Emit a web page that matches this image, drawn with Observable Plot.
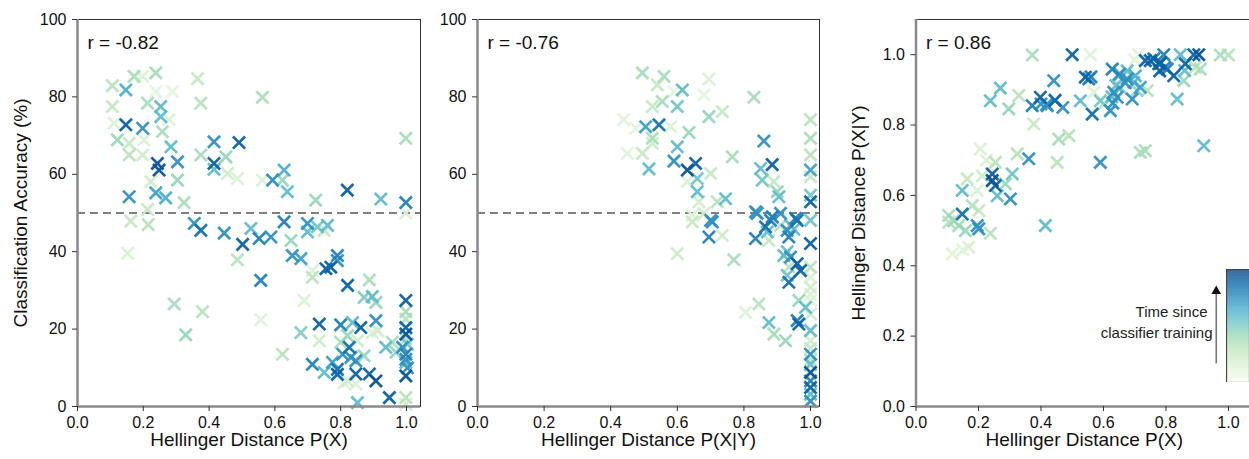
<!DOCTYPE html>
<html><head><meta charset="utf-8">
<script src="https://cdn.jsdelivr.net/npm/d3@7"></script>
<script src="https://cdn.jsdelivr.net/npm/@observablehq/plot@0.6"></script>
<style>
html,body{margin:0;padding:0;background:#fff;overflow:hidden;width:1249px;height:459px;}
#root{position:relative;width:1249px;height:459px;overflow:hidden;}
.panel{position:absolute;top:0;}
</style></head><body><div id="root"></div>
<script>
// ---- tick values / labels ----
const xTicks = [0, 0.2, 0.4, 0.6, 0.8, 1.0];
const accTicks = [0, 20, 40, 60, 80, 100];
const hxyTicks = [0, 0.2, 0.4, 0.6, 0.8, 1.0];
const corrLabels = ["r = -0.82", "r = -0.76", "r = 0.86"];
const xLabels = ["Hellinger Distance P(X)", "Hellinger Distance P(X|Y)", "Hellinger Distance P(X)"];
const yLabels = ["Classification Accuracy (%)", null, "Hellinger Distance P(X|Y)"];
const chanceLevel = 50;
const legendTitle = ["Time since", "classifier training"];

// ---- data: [x, y, time since training (0..1)] ----
const accVsPX = [
[0.106,82.9,0.3],[0.172,85.3,0.35],[0.238,86.2,0.35],[0.198,85.3,0.15],[0.365,84.7,0.25],
[0.147,81.8,0.6],[0.238,81.4,0.1],[0.289,81.4,0.1],[0.562,79.9,0.35],[0.106,77.5,0.25],
[0.213,78.4,0.35],[0.253,77.5,0.55],[0.375,78.4,0.3],[0.111,73.2,0.15],[0.147,72.8,0.85],
[0.198,71.9,0.7],[0.253,74.9,0.55],[0.278,74.1,0.15],[0.258,71.0,0.35],[0.121,68.9,0.4],
[0.157,68.0,0.25],[0.202,68.9,0.15],[0.157,65.0,0.3],[0.198,65.0,0.2],[0.284,67.1,0.55],
[0.415,68.4,0.7],[0.491,68.2,0.85],[0.375,65.0,0.35],[0.451,64.5,0.4],[0.243,62.8,0.9],
[0.248,61.1,0.9],[0.304,63.2,0.7],[0.415,62.8,0.85],[0.415,61.3,0.55],[0.223,58.1,0.2],
[0.304,58.5,0.4],[0.486,58.9,0.15],[0.456,60.2,0.2],[0.562,58.5,0.15],[0.593,58.5,0.7],
[0.623,58.5,0.4],[0.628,61.1,0.6],[0.638,55.5,0.55],[0.157,54.2,0.7],[0.238,55.2,0.65],
[0.268,53.9,0.6],[0.324,52.7,0.35],[0.213,50.9,0.25],[0.724,53.3,0.4],[0.820,55.9,0.85],
[0.922,53.6,0.55],[0.998,52.7,0.75],[0.998,69.3,0.35],[0.998,50.0,0.15],[0.162,47.9,0.25],
[0.215,47.0,0.3],[0.355,47.3,0.7],[0.375,45.5,0.8],[0.446,44.8,0.7],[0.527,46.0,0.55],
[0.502,41.9,0.85],[0.552,43.4,0.75],[0.588,43.8,0.7],[0.628,47.7,0.75],[0.649,42.9,0.4],
[0.699,47.3,0.7],[0.699,45.1,0.55],[0.729,46.4,0.5],[0.750,45.5,0.25],[0.760,46.8,0.55],
[0.152,39.6,0.15],[0.486,37.9,0.3],[0.653,39.0,0.7],[0.679,38.2,0.65],[0.714,35.1,0.15],
[0.714,33.4,0.3],[0.755,35.6,0.85],[0.770,36.0,0.85],[0.790,39.0,0.75],[0.790,37.7,0.7],
[0.557,32.6,0.75],[0.821,31.3,0.85],[0.887,32.7,0.35],[0.871,28.2,0.45],[0.896,28.4,0.55],
[0.907,26.9,0.4],[0.689,27.4,0.15],[0.294,26.5,0.35],[0.380,24.5,0.3],[0.557,22.4,0.12],
[0.329,18.5,0.4],[0.998,27.4,0.85],[0.998,22.6,0.3],[0.998,20.4,0.85],[0.998,18.7,0.9],
[0.998,13.5,0.75],[0.998,12.2,0.7],[0.998,7.9,0.9],[0.998,2.3,0.3],[0.998,0.6,0.2],
[0.679,19.1,0.45],[0.735,21.3,0.85],[0.735,17.0,0.2],[0.800,21.1,0.75],[0.836,21.7,0.55],
[0.861,20.4,0.85],[0.907,22.2,0.7],[0.896,19.1,0.15],[0.912,19.6,0.2],[0.821,18.3,0.4],
[0.623,13.5,0.3],[0.714,10.9,0.75],[0.750,8.8,0.55],[0.775,11.4,0.65],[0.790,9.6,0.8],
[0.806,13.5,0.7],[0.826,15.3,0.8],[0.831,12.7,0.7],[0.846,11.8,0.7],[0.821,6.6,0.2],
[0.846,5.8,0.15],[0.871,13.1,0.4],[0.846,8.4,0.85],[0.887,8.4,0.85],[0.907,6.6,0.9],
[0.937,15.3,0.55],[0.957,16.6,0.35],[0.968,14.0,0.4],[0.948,2.3,0.85],[0.851,1.0,0.55],
[0.988,15.3,0.7],[1.003,16.1,0.5],[0.998,11.4,0.55],[1.003,10.0,0.7],[0.998,17.5,0.3],
[0.998,24.5,0.35],[0.800,16.6,0.35],[0.851,17.0,0.2],[0.790,8.3,0.85],[0.810,6.2,0.15]
];

const accVsPXY = [
[0.495,86.2,0.35],[0.560,85.3,0.35],[0.540,83.1,0.25],[0.695,84.6,0.15],[0.615,81.8,0.55],
[0.680,80.5,0.1],[0.590,81.4,0.1],[0.830,79.9,0.35],[0.555,78.8,0.35],[0.525,77.5,0.25],
[0.600,77.5,0.5],[0.735,76.2,0.25],[0.695,74.9,0.4],[0.439,74.1,0.12],[0.505,72.3,0.65],
[0.545,72.8,0.8],[0.475,71.9,0.1],[0.580,72.3,0.15],[0.635,70.8,0.4],[1.0,74.1,0.3],
[1.0,69.3,0.35],[1.0,65.0,0.3],[0.525,69.3,0.35],[0.525,68.0,0.2],[0.600,67.1,0.55],
[0.860,68.6,0.7],[0.450,65.4,0.12],[0.495,65.4,0.25],[0.765,64.5,0.35],[0.590,63.4,0.7],
[0.655,62.8,0.85],[0.630,61.1,0.9],[0.515,61.4,0.55],[0.885,62.5,0.85],[0.850,61.5,0.55],
[1.0,61.1,0.65],[1.0,59.4,0.25],[0.700,60.2,0.25],[0.660,58.9,0.5],[0.630,58.1,0.15],
[0.855,58.5,0.5],[0.890,58.1,0.25],[0.660,55.5,0.55],[0.900,55.5,0.4],[0.665,52.9,0.2],
[0.720,52.9,0.3],[0.745,53.7,0.55],[0.905,54.2,0.55],[1.0,52.9,0.85],[1.0,54.6,0.5],
[0.645,49.4,0.15],[0.680,49.9,0.2],[0.705,47.7,0.7],[0.695,43.8,0.75],[0.735,44.2,0.2],
[0.770,37.9,0.35],[0.600,39.5,0.2],[0.645,47.7,0.25],[0.840,49.9,0.7],[0.835,43.4,0.75],
[0.865,46.4,0.8],[0.880,48.1,0.75],[0.870,45.1,0.55],[0.875,42.9,0.25],[0.910,49.9,0.7],
[0.910,46.8,0.3],[0.930,45.5,0.7],[0.940,46.8,0.55],[0.960,48.1,0.8],[0.950,45.8,0.55],
[0.935,43.8,0.75],[1.0,48.1,0.5],[1.0,42.1,0.85],[0.920,39.0,0.55],[0.940,38.6,0.7],
[0.960,36.9,0.85],[0.970,35.1,0.85],[0.930,40.0,0.55],[0.930,33.9,0.5],[0.935,32.1,0.8],
[0.935,36.0,0.3],[1.0,33.4,0.15],[1.0,30.8,0.2],[0.965,27.4,0.4],[0.985,25.6,0.55],
[1.0,27.4,0.12],[1.0,23.9,0.2],[0.805,24.3,0.15],[0.845,26.5,0.3],[0.875,21.7,0.55],
[0.890,18.7,0.35],[0.925,17.0,0.4],[0.965,21.3,0.85],[0.960,22.2,0.75],[1.0,19.6,0.55],
[1.0,17.0,0.2],[1.0,13.5,0.7],[1.0,10.9,0.55],[1.0,8.8,0.9],[1.0,6.6,0.75],
[1.0,4.9,0.85],[1.0,3.2,0.55],[1.0,1.4,0.7],[1.0,12.0,0.3],[1.0,8.0,0.2],
[1.0,36.0,0.3],[1.0,29.0,0.15],[1.0,15.0,0.25],[0.835,50.3,0.7],[0.885,49.0,0.75],
[0.955,48.6,0.75],[0.700,48.1,0.7]
];

const pxyVsPX = [
[0.372,0.999,0.35],[0.500,1.0,0.85],[0.558,1.0,0.12],[0.713,1.0,0.12],[0.734,0.983,0.85],
[0.761,0.988,0.75],[0.793,1.0,0.75],[0.777,0.974,0.85],[0.804,0.959,0.75],[0.825,0.940,0.85],
[0.846,1.0,0.55],[0.862,0.974,0.85],[0.889,1.0,0.85],[0.905,1.0,0.9],[0.894,0.964,0.3],
[0.910,0.959,0.35],[0.974,0.999,0.35],[1.0,0.999,0.3],[0.857,0.926,0.4],[0.836,0.874,0.55],
[0.921,0.741,0.55],[0.734,0.727,0.35],[0.718,0.722,0.35],[0.590,0.694,0.7],[0.452,0.694,0.3],
[0.457,0.760,0.35],[0.489,0.770,0.3],[0.377,0.803,0.25],[0.361,0.704,0.7],[0.324,0.718,0.3],
[0.297,0.846,0.4],[0.329,0.884,0.3],[0.238,0.869,0.55],[0.270,0.905,0.55],[0.372,0.855,0.75],
[0.398,0.879,0.85],[0.420,0.855,0.7],[0.441,0.926,0.7],[0.542,0.936,0.85],[0.553,0.931,0.75],
[0.526,0.869,0.55],[0.564,0.831,0.8],[0.569,0.893,0.15],[0.601,0.860,0.3],[0.628,0.959,0.75],
[0.654,0.945,0.5],[0.676,0.931,0.7],[0.633,0.893,0.7],[0.644,0.879,0.7],[0.622,0.841,0.7],
[0.692,0.874,0.7],[0.697,0.921,0.55],[0.718,0.907,0.65],[0.740,0.898,0.3],[0.590,0.869,0.5],
[0.654,0.907,0.4],[0.708,0.898,0.4],[0.206,0.732,0.15],[0.254,0.694,0.3],[0.164,0.647,0.25],
[0.212,0.656,0.2],[0.244,0.661,0.85],[0.244,0.642,0.9],[0.254,0.628,0.85],[0.308,0.661,0.5],
[0.286,0.633,0.4],[0.260,0.599,0.55],[0.302,0.590,0.7],[0.148,0.614,0.55],[0.196,0.614,0.15],
[0.180,0.571,0.3],[0.201,0.557,0.25],[0.148,0.547,0.8],[0.105,0.543,0.35],[0.121,0.528,0.4],
[0.196,0.514,0.7],[0.414,0.514,0.55],[0.105,0.524,0.3],[0.137,0.514,0.35],[0.158,0.500,0.4],
[0.201,0.505,0.7],[0.238,0.492,0.3],[0.116,0.434,0.12],[0.169,0.453,0.15],[0.150,0.445,0.12],
[0.750,0.983,0.85],[0.783,0.976,0.85],[0.780,0.954,0.85],[0.797,0.964,0.75],[0.676,0.954,0.55],
[0.650,0.944,0.7],[0.670,0.920,0.7],[0.702,0.940,0.6],[0.640,0.912,0.55],[0.630,0.862,0.7],
[0.627,0.880,0.55],[0.560,0.937,0.75],[0.445,0.870,0.85],[0.418,0.858,0.7],[0.400,0.860,0.7],
[0.860,0.955,0.55],[0.700,0.985,0.12],[0.470,0.850,0.7],[0.225,0.700,0.15]
];

// ---- rendering ----
const FONT = "'Liberation Sans', Arial, Helvetica, sans-serif";
const colorOpt = {type: "linear", scheme: "GnBu", domain: [0, 0.95], clamp: true};
const root = document.getElementById("root");

function panel(o) {
  const data = [...o.data].sort((a, b) => a[2] - b[2]);
  const marks = [];
  if (o.chance != null) marks.push(Plot.ruleY([o.chance], {stroke: "#808080", strokeWidth: 2, strokeDasharray: "8,5"}));
  marks.push(Plot.dot(data, {x: d => d[0], y: d => d[1], stroke: d => d[2], symbol: "times", r: 5.6, strokeWidth: 2.7, strokeOpacity: 0.95}));
  marks.push(Plot.frame({stroke: "#333", strokeWidth: 1}));
  marks.push(Plot.ruleX([o.xDomain[0]], {stroke: "#8a8a8a", strokeWidth: 2.5}));
  marks.push(Plot.ruleY([o.yDomain[0]], {stroke: "#8a8a8a", strokeWidth: 2.5}));
  marks.push(Plot.axisX(xTicks, {tickFormat: d3.format(".1f"), tickSize: 5, tickPadding: 5, fontSize: 16, label: null, stroke: "#333"}));
  marks.push(Plot.axisY(o.yTicks, {tickFormat: o.yFormat, tickSize: 5, tickPadding: 6, fontSize: 16, label: null, stroke: "#333"}));
  marks.push(Plot.text([o.xLabel], {frameAnchor: "bottom", dy: 39, fontSize: 19, fill: "#111", textAnchor: "middle"}));
  if (o.yLabel) marks.push(Plot.text([o.yLabel], {frameAnchor: "left", dx: -57, rotate: -90, fontSize: 19, fill: "#111", textAnchor: "middle"}));
  marks.push(Plot.text([o.rLabel], {frameAnchor: "top-left", dx: 10, dy: 16, textAnchor: "start", fontSize: 19, fill: "#111"}));
  if (o.extra) marks.push(...o.extra);
  const svg = Plot.plot({
    width: o.width, height: 459,
    marginLeft: o.marginLeft, marginRight: o.marginRight, marginTop: 19, marginBottom: 53,
    x: {domain: o.xDomain},
    y: {domain: o.yDomain},
    color: colorOpt,
    style: {fontFamily: FONT, background: "transparent", color: "#111", overflow: "visible"},
    marks
  });
  svg.classList.add("panel");
  svg.style.left = o.left + "px";
  root.appendChild(svg);
}

panel({left: 0, width: 425, marginLeft: 77, marginRight: 5, xDomain: [0, 1.0426], yDomain: [0, 100],
  yTicks: accTicks, yFormat: d3.format("d"), xLabel: xLabels[0], yLabel: yLabels[0], rLabel: corrLabels[0],
  data: accVsPX, chance: chanceLevel});

panel({left: 440, width: 385, marginLeft: 37, marginRight: 6, xDomain: [0, 1.027], yDomain: [0, 100],
  yTicks: accTicks, yFormat: d3.format("d"), xLabel: xLabels[1], yLabel: yLabels[1], rLabel: corrLabels[1],
  data: accVsPXY, chance: chanceLevel});

// legend annotation inside the third panel (arrow + text)
const arrowPos = [{x: 0.961, y1: 0.121, y2: 0.322, head: 0.328}];
const legendText = [
  {x: 0.933, y: 0.268, t: legendTitle[0]},
  {x: 0.949, y: 0.209, t: legendTitle[1]}
];
panel({left: 840, width: 420, marginLeft: 75.5, marginRight: 8, xDomain: [0, 1.077], yDomain: [0, 1.1],
  yTicks: hxyTicks, yFormat: d3.format(".1f"), xLabel: xLabels[2], yLabel: yLabels[2], rLabel: corrLabels[2],
  data: pxyVsPX, chance: null,
  extra: [
    Plot.ruleX(arrowPos, {x: "x", y1: "y1", y2: "y2", stroke: "#777", strokeWidth: 1.6}),
    Plot.dot(arrowPos, {x: "x", y: "head", symbol: "triangle", r: 3.6, fill: "#111", stroke: "none"}),
    Plot.text(legendText, {x: "x", y: "y", text: "t", textAnchor: "end", fontSize: 15, fill: "#222"})
  ]});

// colorbar
const steps = d3.range(0, 1, 0.005);
const cbar = Plot.plot({
  width: 23, height: 113, margin: 0,
  x: {domain: [0, 1], axis: null},
  y: {domain: [0, 1], axis: null},
  color: {type: "linear", scheme: "GnBu", domain: [0, 1]},
  style: {background: "transparent"},
  marks: [
    Plot.rect(steps, {x1: 0, x2: 1, y1: d => d, y2: d => d + 0.0055, fill: d => d}),
    Plot.frame({stroke: "#444", strokeWidth: 1.2})
  ]
});
cbar.style.position = "absolute";
cbar.style.left = "1226px";
cbar.style.top = "269px";
root.appendChild(cbar);
</script>
</body></html>
